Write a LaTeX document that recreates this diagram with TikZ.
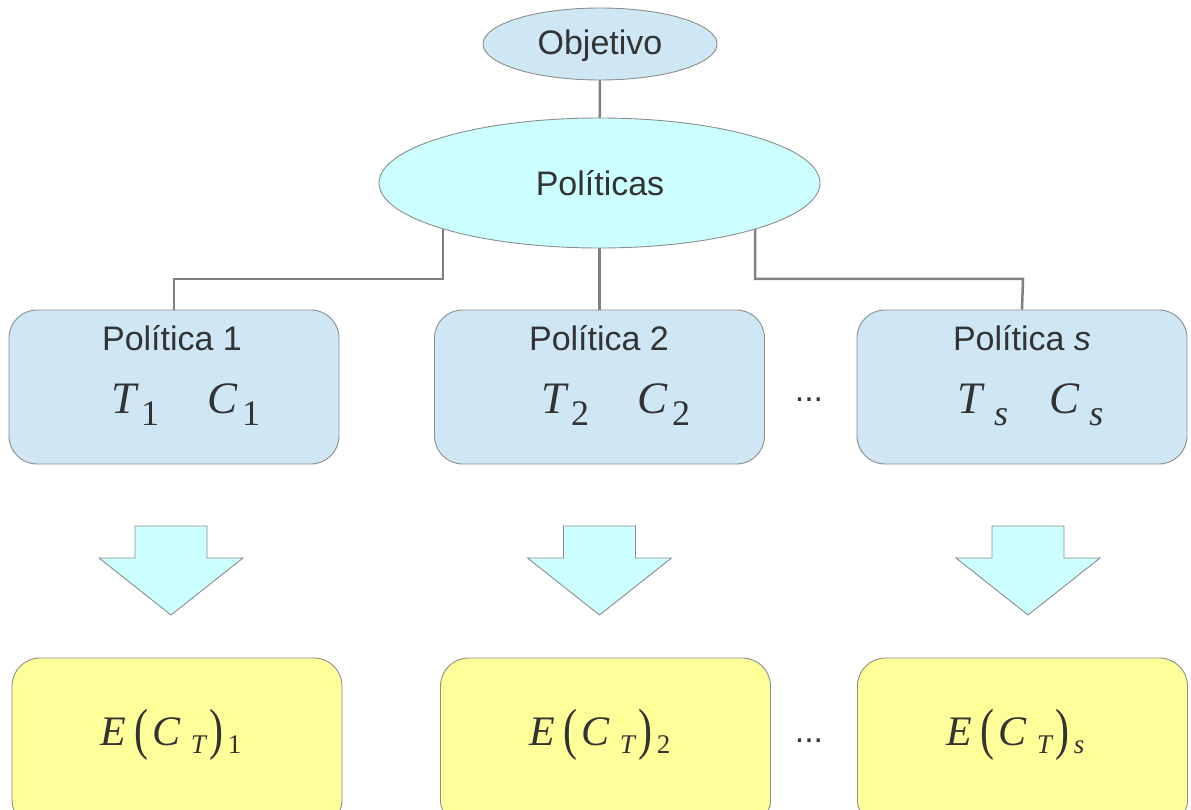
\documentclass[tikz,border=0pt]{standalone}
\usepackage{fontspec}
\setmainfont{Liberation Sans}
\newfontfamily\tnr{Liberation Serif}
\usetikzlibrary{shapes.geometric,backgrounds}
\newcommand\fsz[1]{\fontsize{#1}{#1}\selectfont}
\newcommand\mathT[2]{{\tnr\fsz{45}\itshape #1}\kern5pt\raisebox{-12pt}{\tnr\fsz{36}#2}}
\newcommand\tallparen[1]{\raisebox{-3pt}{\scalebox{1}[1.35]{\tnr\fsz{42}#1}}}
\newcommand\Eexpr[1]{{\tnr\fsz{42}\itshape E}\kern9pt\tallparen{(}\kern4pt{\tnr\fsz{42}\itshape C}\kern10pt\raisebox{-8pt}{\tnr\fsz{27}\itshape T}\kern4pt\tallparen{)}\kern4pt\raisebox{-8pt}{\tnr\fsz{27}#1}}
\definecolor{paleblue}{HTML}{CFE7F5}
\definecolor{palecyan}{HTML}{CCFFFF}
\definecolor{paleyellow}{HTML}{FFFF99}
\definecolor{edgegray}{HTML}{8C8C8C}
\definecolor{conngray}{HTML}{808080}
\definecolor{txt}{HTML}{333333}
\tikzset{
  lbl/.style={inner sep=0pt, text=txt, font=\fsz{34}, anchor=base},
  mth/.style={inner sep=0pt, text=txt, anchor=base west},
  ovalobj/.style={ellipse, draw=edgegray, line width=0.9pt, fill=paleblue, inner sep=0pt},
  ovalpol/.style={ellipse, draw=edgegray, line width=0.9pt, fill=palecyan, inner sep=0pt},
  bluebox/.style={draw=edgegray, line width=0.9pt, fill=paleblue, rounded corners=28pt, minimum width=330pt, minimum height=154pt, inner sep=0pt},
  yelbox/.style={draw=edgegray, line width=0.9pt, fill=paleyellow, rounded corners=28pt, minimum width=330pt, minimum height=170pt, inner sep=0pt},
  conn/.style={draw=conngray, line width=2.5pt},
  bigarrow/.style={draw=edgegray, line width=0.9pt, fill=palecyan, line join=miter},
  downarr/.pic={\path[bigarrow] (-72,558) -- (-36,558) -- (-36,526) -- (36,526) -- (36,558) -- (72,558) -- (0,615) -- cycle;}
}
\begin{document}
\begin{tikzpicture}[x=1pt,y=-1pt]
\useasboundingbox (0,0) rectangle (1191,810);
\clip (0,0) rectangle (1191,810);
% ovals
\node[ovalobj, minimum width=234pt, minimum height=72pt] (obj) at (600,44) {};
\node[ovalpol, minimum width=441pt, minimum height=130pt] (pol) at (599.5,183) {};
\node[lbl] (objt) at (600,55) {Objetivo};
\node[lbl] (polt) at (600,196) {Políticas};
% policy boxes
\node[bluebox] (p1) at (174,387) {};
\node[bluebox] (p2) at (599.5,387) {};
\node[bluebox] (p3) at (1022,387) {};
\node[lbl] (p1t) at (172,350) {Política 1};
\node[lbl] (p2t) at (599,350) {Política 2};
\node[lbl] (p3t) at (1022,350) {Política \textit{s}};
\node[mth] (p1m) at (111,413) {\mathT{T}{1}\hspace{48pt}\mathT{C}{1}};
\node[mth] (p2m) at (541,413) {\mathT{T}{2}\hspace{48pt}\mathT{C}{2}};
\node[mth] (p3m) at (957,413) {{\tnr\fsz{45}\itshape T}\kern12pt\raisebox{-12pt}{\tnr\fsz{36}\itshape s}\hspace{41pt}{\tnr\fsz{45}\itshape C}\kern10pt\raisebox{-12pt}{\tnr\fsz{36}\itshape s}};
\node[lbl] (dots1) at (809,401) {...};
% arrows
\pic (a1) at (171,0) {downarr};
\pic (a2) at (599.5,0) {downarr};
\pic (a3) at (1028,0) {downarr};
% result boxes
\node[yelbox] (r1) at (177,743) {};
\node[yelbox] (r2) at (605.5,743) {};
\node[yelbox] (r3) at (1022.5,743) {};
\node[mth] (r1m) at (100,745) {\Eexpr{1}};
\node[mth] (r2m) at (529,745) {\Eexpr{2}};
\node[mth] (r3m) at (946,745) {\Eexpr{\itshape s}};
\node[lbl] (dots2) at (809,742) {...};
% connectors
\coordinate (h1) at (174,279);
\coordinate (h3) at (1023,279);
\begin{scope}[on background layer]
\draw[conn] (obj.center) -- (pol.center);
\draw[conn] ([xshift=-156.5pt]pol.center) |- (h1) -- (p1.north);
\draw[conn] (pol.center) -- (p2.north);
\draw[conn] ([xshift=155.5pt]pol.center) |- (h3) -- (p3.north);
\end{scope}
\end{tikzpicture}
\end{document}
